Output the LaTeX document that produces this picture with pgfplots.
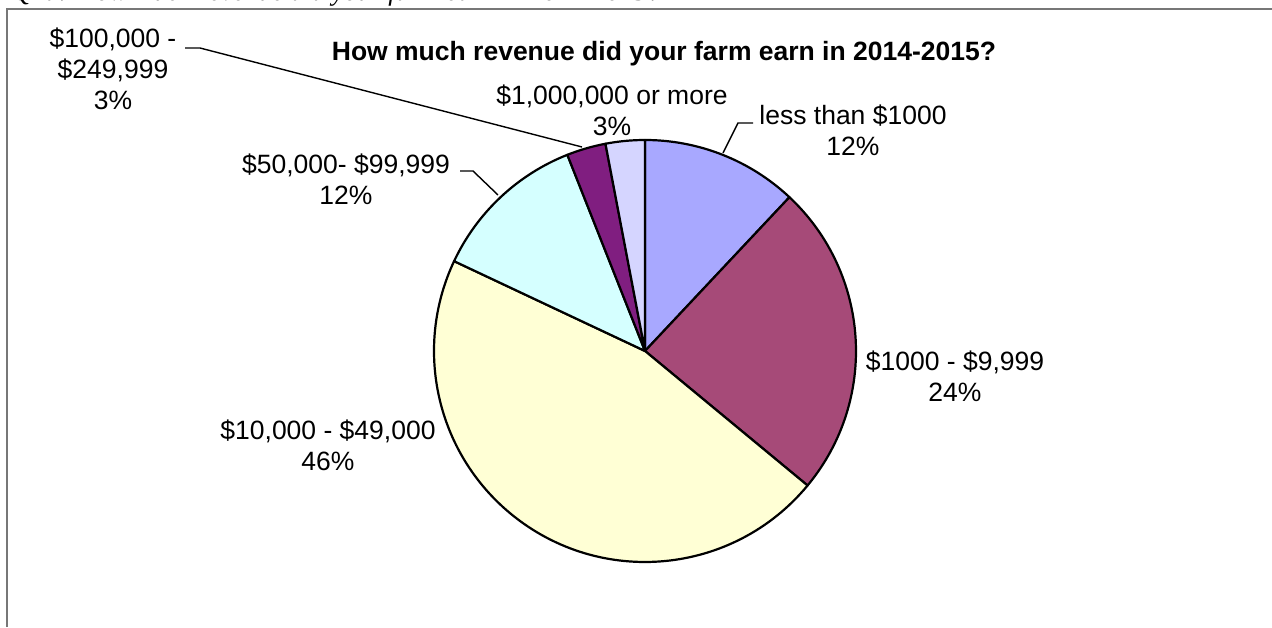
\documentclass[border=0pt]{standalone}
\usepackage{fontspec}
\setmainfont{Liberation Sans}
\newfontfamily\tnr{Liberation Serif}
\usepackage{pgfplots}
\usepackage{pgfplotstable}
\pgfplotsset{compat=1.18}
\definecolor{s1}{HTML}{A8A8FF}
\definecolor{s2}{HTML}{A64A78}
\definecolor{s3}{HTML}{FFFFD5}
\definecolor{s4}{HTML}{D5FFFF}
\definecolor{s5}{HTML}{801E80}
\definecolor{s6}{HTML}{D5D5FF}
\definecolor{frame}{HTML}{777777}

% share in percent, clockwise from 12 o'clock
\pgfplotstableread{
share col
12 s1
24 s2
46 s3
12 s4
3  s5
3  s6
}\pietable

\newcommand{\lbl}{\fontsize{26.5}{31}\selectfont}

\begin{document}
\begin{tikzpicture}
\useasboundingbox (0,0) rectangle (1272pt,627pt);
\clip (0,0) rectangle (1272pt,627pt);
\begin{axis}[x=1pt, y=1pt, xmin=0, xmax=1272, ymin=0, ymax=627,
    hide axis, clip=false, anchor=south west, at={(0,0)}]
  % pie slices from the table
  \pgfplotsextra{
    \def\acc{90}
    \pgfplotsforeachungrouped \i in {0,...,5}{
      \pgfplotstablegetelem{\i}{share}\of\pietable \let\v\pgfplotsretval
      \pgfplotstablegetelem{\i}{col}\of\pietable \let\c\pgfplotsretval
      \pgfmathsetmacro\aend{\acc-3.6*\v}
      \edef\cmd{\noexpand\filldraw[fill=\c, draw=black, line width=2.2pt, line join=round]
        (axis cs:645,276) -- ++(\acc:211pt) arc[start angle=\acc, end angle=\aend, radius=211pt] -- cycle;}
      \cmd
      \let\acc\aend
    }
  }
  % frame and cut-off question line
  \draw[frame, line width=1.5pt] (axis cs:7,0) -- (axis cs:7,618) -- (axis cs:1280,618);
  \node[anchor=base west, inner sep=0pt, font=\tnr\itshape\fontsize{27}{27}\selectfont]
    at (axis cs:12,626) {Q2a: How much revenue did your farm earn in 2014-2015?};
  % title
  \node[font=\bfseries\lbl] at (axis cs:664,573) {How much revenue did your farm earn in 2014-2015?};
  % labels
  \node[align=center, font=\lbl] at (axis cs:853,497) {less than \$1000\\12\%};
  \node[align=center, font=\lbl] at (axis cs:955,251) {\$1000 - \$9,999\\24\%};
  \node[align=center, font=\lbl] at (axis cs:328,182) {\$10,000 - \$49,000\\46\%};
  \node[align=center, font=\lbl] at (axis cs:346,448) {\$50,000- \$99,999\\12\%};
  \node[align=center, font=\lbl] at (axis cs:113,558) {\$100,000 -\\\$249,999\\3\%};
  \node[align=center, font=\lbl] at (axis cs:612,517) {\$1,000,000 or more\\3\%};
  % leader lines
  \draw[black, line width=1.4pt] (axis cs:753,504) -- (axis cs:738,504) -- (axis cs:723,474);
  \draw[black, line width=1.4pt] (axis cs:460,456) -- (axis cs:473,456) -- (axis cs:498,432);
  \draw[black, line width=1.4pt] (axis cs:185,579) -- (axis cs:200,579) -- (axis cs:582,480);
\end{axis}
\end{tikzpicture}
\end{document}
